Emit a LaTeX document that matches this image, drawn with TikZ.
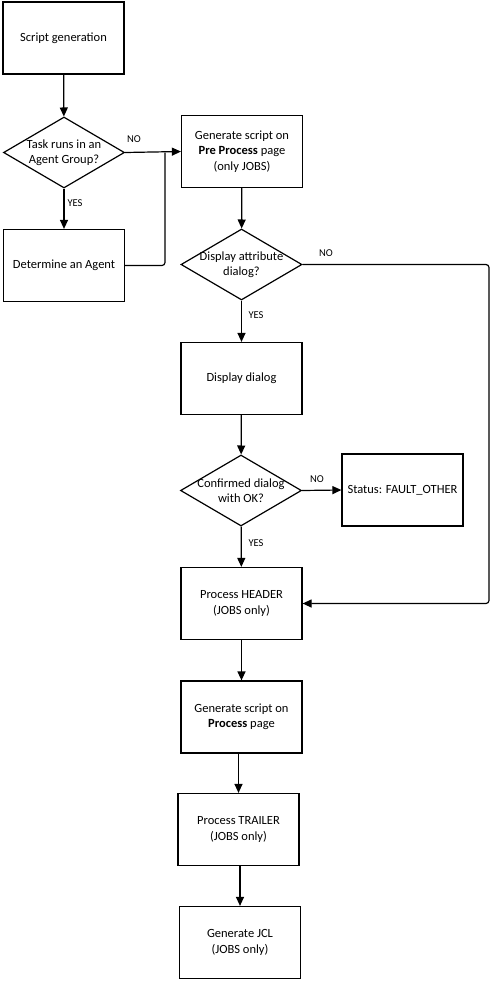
\documentclass[tikz,border=0pt]{standalone}
\usepackage{fontspec}
\setmainfont{Carlito}
\usetikzlibrary{arrows.meta,shapes.geometric}
\begin{document}
\begin{tikzpicture}[x=1pt,y=1pt,
  every node/.style={font=\fontsize{12.5}{15.5}\selectfont},
  box/.style={draw,line width=1.2pt,minimum width=121pt,minimum height=72pt,inner sep=2pt,align=center},
  dec/.style={draw,line width=1.2pt,diamond,minimum width=121pt,minimum height=71pt,inner sep=0pt},
  lbl/.style={font=\fontsize{10.5}{12}\selectfont,inner sep=0pt},
  arr/.style={line width=1.2pt,-{Triangle[length=9pt,width=8pt]}},
  ln/.style={line width=1.2pt}]
\useasboundingbox (0,0) rectangle (498,-982);
\node[box] (sg) at (63.5,-38) {Script generation};
\node[dec,label={[align=center]center:Task runs in an\\Agent Group?}] (d1) at (64,-152.5) {};
\node[box] (agent) at (64,-265.5) {Determine an Agent};
\node[box] (pre) at (242,-151.5) {Generate script on\\\textbf{Pre Process} page\\(only JOBS)};
\node[dec,label={[align=center]center:Display attribute\\dialog?}] (d2) at (241.5,-264.5) {};
\node[box] (disp) at (241.5,-378.5) {Display dialog};
\node[dec,label={[align=center]center:Confirmed dialog\\with OK?}] (d3) at (241,-490.5) {};
\node[box] (status) at (402.5,-490) {Status: FAULT\_OTHER};
\node[box] (header) at (241.5,-603.5) {Process HEADER\\(JOBS only)};
\node[box] (proc) at (241.5,-717) {Generate script on\\\textbf{Process} page};
\node[box] (trailer) at (238.5,-829.5) {Process TRAILER\\(JOBS only)};
\node[box] (jcl) at (240,-942.5) {Generate JCL\\(JOBS only)};
\coordinate (j) at (165,-152.5);
\coordinate (rt) at (489,-264.5);
\coordinate (rb) at (489,-603.5);
\draw[arr] (sg) -- (d1);
\draw[arr] (d1) -- (agent);
\draw[arr] (d1.east) -- (pre.west);
\draw[ln,rounded corners=3pt] (agent.east) -| (j);
\draw[arr] (pre) -- (d2);
\draw[arr] (d2) -- (disp);
\draw[arr,rounded corners=3pt] (d2.east) -- (rt) -- (rb) -- (header.east);
\draw[arr] (disp) -- (d3);
\draw[arr] (d3.east) -- (status.west);
\draw[arr] (d3) -- (header);
\draw[arr] (header) -- (proc);
\draw[arr] (proc.south -| trailer) -- (trailer.north);
\draw[arr] (trailer.south -| jcl) -- (jcl.north);
\node[lbl] (l1) at (134,-139) {NO};
\node[lbl] (l2) at (75,-203) {YES};
\node[lbl] (l3) at (326,-253) {NO};
\node[lbl] (l4) at (256,-315) {YES};
\node[lbl] (l5) at (317,-479) {NO};
\node[lbl] (l6) at (256,-543) {YES};
\end{tikzpicture}
\end{document}
